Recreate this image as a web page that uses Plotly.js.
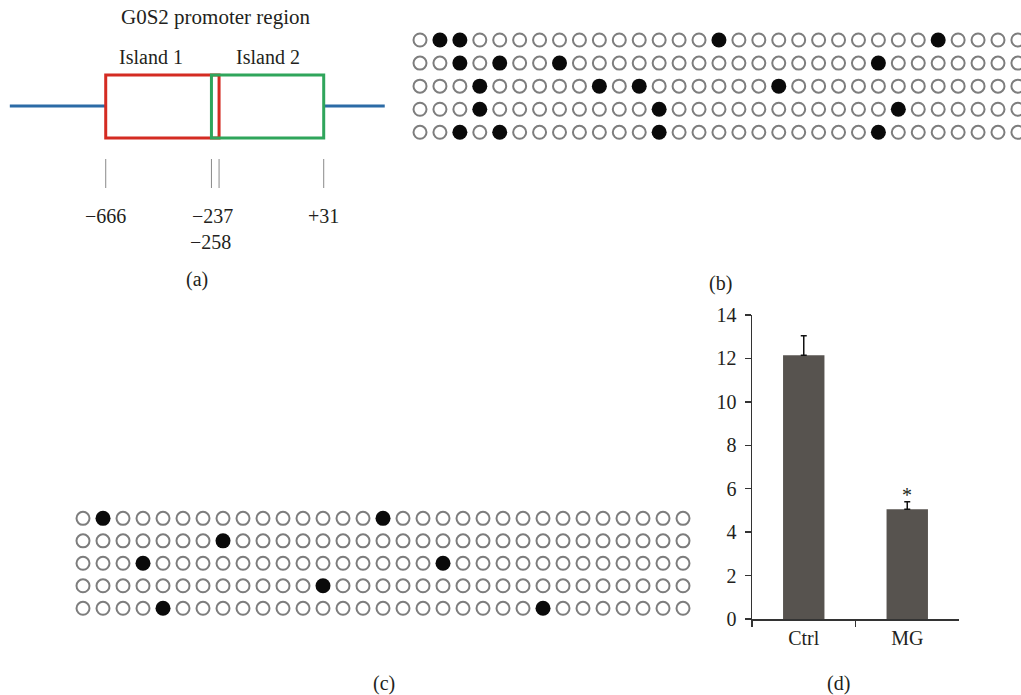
<!DOCTYPE html>
<html>
<head>
<meta charset="utf-8">
<script src="https://cdn.plot.ly/plotly-3.0.1.min.js"></script>
<style>html,body{margin:0;padding:0;background:#fff}#chart{width:1021px;height:695px}</style>
</head>
<body>
<div id="chart"></div>
<script>
// ---------- Panel (a): promoter schematic ----------
const siteLabels = ["−666", "−258", "−237", "+31"];
const siteX = [0, 0.97, 1.04, 2.0];          // schematic positions (not to scale)
const islandNames = ["Island 1", "Island 2"];
const regionTitle = "G0S2 promoter region";

// ---------- Panel (b) / (c): methylation status (31 CpG sites x 5 clones) ----------
const nSites = 31;
const nClones = 5;
const bMethylated = [[1, 2, 15, 26], [2, 4, 7, 23], [3, 9, 11, 18], [3, 12, 24], [2, 4, 12, 23]];
const cMethylated = [[1, 15], [7], [3, 18], [12], [4, 23]];

// ---------- Panel (d): bar chart ----------
const groups = ["Ctrl", "MG"];
const values = [12.15, 5.05];
const errors = [0.9, 0.35];
const yTicks = [0, 2, 4, 6, 8, 10, 12, 14];
const panelLabels = ["(a)", "(b)", "(c)", "(d)"];

const FONT = "Liberation Serif, Times New Roman, serif";
const TXT = "#231f20";
const W = 1021, H = 695;
const px = v => v / W;
const py = v => 1 - v / H;

function circleTraces(meth, xa, ya) {
  const ox = [], oy = [], fx = [], fy = [];
  for (let r = 0; r < nClones; r++) {
    for (let c = 0; c < nSites; c++) {
      if (meth[r].includes(c)) { fx.push(c); fy.push(r); }
      else { ox.push(c); oy.push(r); }
    }
  }
  return [
    {type: "scatter", mode: "markers", x: ox, y: oy, xaxis: xa, yaxis: ya, hoverinfo: "skip",
     marker: {symbol: "circle", size: 13, color: "#ffffff", line: {color: "#7d7d7d", width: 2}}},
    {type: "scatter", mode: "markers", x: fx, y: fy, xaxis: xa, yaxis: ya, hoverinfo: "skip",
     marker: {symbol: "circle", size: 15, color: "#0a0a0a", line: {width: 0}}}
  ];
}

const traces = [
  ...circleTraces(bMethylated, "x2", "y2"),
  ...circleTraces(cMethylated, "x3", "y3"),
  {type: "bar", x: groups, y: values, xaxis: "x4", yaxis: "y4", width: 0.4,
   marker: {color: "#57534f", line: {width: 0}},
   error_y: {type: "data", symmetric: false, array: errors, arrayminus: [0, 0],
             color: "#111", thickness: 1.5, width: 3},
   hoverinfo: "skip"}
];

// schematic shapes
const lineY = 106, boxTop = 75, boxBot = 138, tickTop = 159, tickBot = 188;
const shapes = [
  {type: "line", xref: "x", yref: "y", x0: siteX[0] - 0.88, x1: siteX[0], y0: lineY, y1: lineY,
   line: {color: "#2b6ba6", width: 3}},
  {type: "line", xref: "x", yref: "y", x0: siteX[3], x1: siteX[3] + 0.56, y0: lineY, y1: lineY,
   line: {color: "#2b6ba6", width: 3}},
  {type: "rect", xref: "x", yref: "y", x0: siteX[0], x1: siteX[2], y0: boxTop, y1: boxBot,
   line: {color: "#d42b22", width: 3}},
  {type: "rect", xref: "x", yref: "y", x0: siteX[1], x1: siteX[3], y0: boxTop, y1: boxBot,
   line: {color: "#2fa55b", width: 3}}
];
siteX.forEach(sx => shapes.push({type: "line", xref: "x", yref: "y", x0: sx, x1: sx, y0: tickTop, y1: tickBot,
  line: {color: "#8a8a8a", width: 1}}));

const tf = {family: FONT, size: 20, color: TXT};
const C = {showarrow: false, font: tf, xanchor: "center", yanchor: "middle"};
const annotations = [
  {...C, xref: "paper", yref: "paper", x: px(215), y: py(17), text: regionTitle, font: {...tf, size: 21}},
  {...C, xref: "paper", yref: "paper", x: px(151), y: py(57), text: islandNames[0]},
  {...C, xref: "paper", yref: "paper", x: px(268), y: py(57), text: islandNames[1]},
  {...C, xref: "x", yref: "y", x: siteX[0], y: 216, text: siteLabels[0]},
  {...C, xref: "x", yref: "y", x: (siteX[1] + siteX[2]) / 2, xshift: -3, y: 216, text: siteLabels[2]},
  {...C, xref: "x", yref: "y", x: (siteX[1] + siteX[2]) / 2, xshift: -5, y: 242, text: siteLabels[1]},
  {...C, xref: "x", yref: "y", x: siteX[3], y: 216, text: siteLabels[3]},
  {...C, xref: "paper", yref: "paper", x: px(197), y: py(280), text: panelLabels[0]},
  {...C, xref: "paper", yref: "paper", x: px(720), y: py(283), text: panelLabels[1]},
  {...C, xref: "paper", yref: "paper", x: px(384), y: py(683), text: panelLabels[2]},
  {...C, xref: "paper", yref: "paper", x: px(838), y: py(683), text: panelLabels[3]},
  {...C, xref: "x4", yref: "y4", x: groups[1], y: values[1] + errors[1], yanchor: "bottom", yshift: -6,
   text: "*"}
];

const hidden = {visible: false, fixedrange: true, showgrid: false, zeroline: false};
const layout = {
  width: W, height: H, margin: {l: 0, r: 0, t: 0, b: 0},
  paper_bgcolor: "#fff", plot_bgcolor: "rgba(0,0,0,0)", showlegend: false,
  xaxis: {...hidden, domain: [0, px(400)], range: [-0.970, 2.700]},
  yaxis: {...hidden, domain: [py(300), 1], range: [300, 0]},
  xaxis2: {...hidden, domain: [px(400), 1], range: [-1.0035, 30.155]},
  yaxis2: {...hidden, domain: [py(150), py(20)], range: [4.766, -0.867]},
  xaxis3: {...hidden, domain: [px(60), px(710)], range: [-1.15, 31.35]},
  yaxis3: {...hidden, domain: [py(625), py(500)], range: [4.742, -0.815]},
  xaxis4: {domain: [px(752), px(959)], type: "category", range: [-0.5, 1.5], fixedrange: true,
           showline: true, linecolor: "#333", linewidth: 1.5, ticks: "outside", tickson: "boundaries",
           ticklen: 6, tickcolor: "#333", tickwidth: 1.5, showgrid: false, zeroline: false,
           tickfont: tf, anchor: "y4"},
  yaxis4: {domain: [py(619), py(315)], range: [0, 14], tickvals: yTicks, fixedrange: true,
           showline: true, linecolor: "#333", linewidth: 1.5, ticks: "outside", ticklen: 6,
           tickcolor: "#333", tickwidth: 1.5, showgrid: false, zeroline: false,
           tickfont: tf, anchor: "x4", ticklabelstandoff: 4},
  shapes: shapes,
  annotations: annotations
};

Plotly.newPlot("chart", traces, layout, {staticPlot: true, displayModeBar: false});
</script>
</body>
</html>
